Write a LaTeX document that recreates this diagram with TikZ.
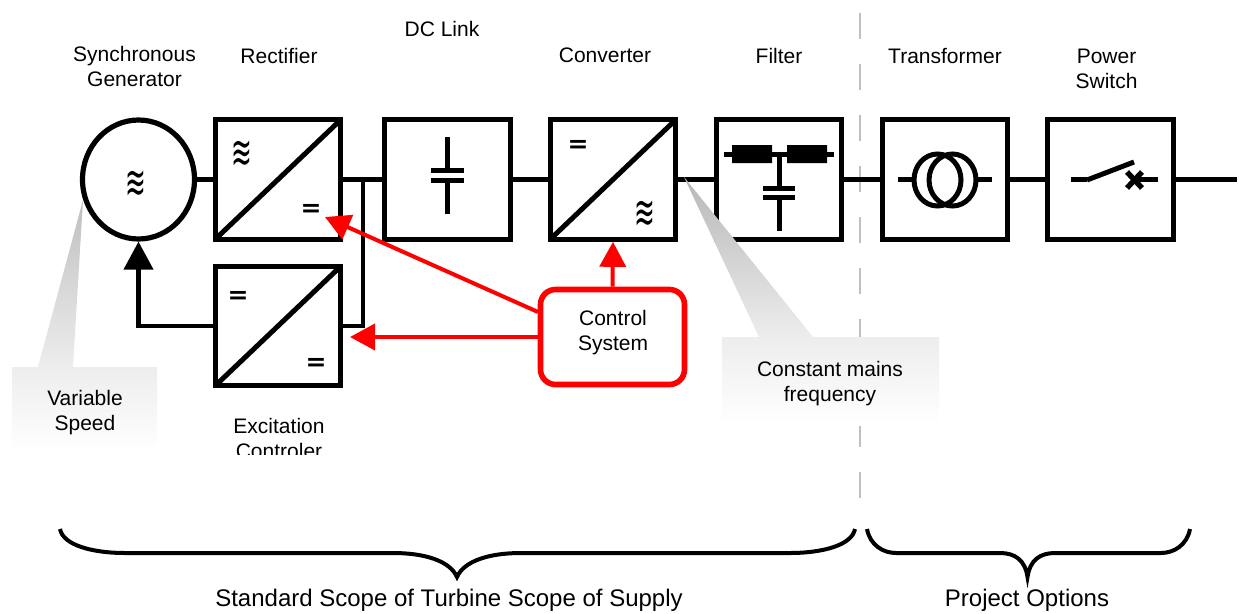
\documentclass[tikz,border=0pt]{standalone}
\usepackage{fontspec}
\usepackage{graphicx}
\setmainfont{Liberation Sans}
\newfontfamily\symfont{DejaVu Sans}
\usetikzlibrary{arrows.meta,shadings,shapes.geometric,calc}
\definecolor{guide}{HTML}{C0C0C0}
\tikzset{
  wire/.style={line width=4.2pt,black},
  blockbox/.style={draw,line width=5.2pt,fill=white,minimum width=125.5pt,minimum height=119.5pt,inner sep=0pt},
  genbox/.style={draw,ellipse,line width=5.2pt,fill=white,minimum width=112pt,minimum height=119pt,inner sep=0pt},
  lbl/.style={font=\fontsize{21}{25}\selectfont,align=center,inner sep=0pt,text=black},
  biglbl/.style={lbl,font=\fontsize{24}{28}\selectfont},
  wave/.style={font=\symfont\fontsize{27}{27}\selectfont,inner sep=0pt},
  eq/.style={font=\symfont\bfseries\fontsize{25}{25}\selectfont,inner sep=0pt},
  callout/.style={lbl,shading=axis,top color=black!7,bottom color=white,shading angle=0},
  redwire/.style={line width=4pt,red},
  redhead/.style={-{Triangle[length=25pt,width=26pt]}},
  part/.style={line width=5pt,black},
  brace/.style={line width=4pt,black,line cap=butt}
}
\newcommand{\wavesym}{\scalebox{0.92}[1.7]{≋}}
\begin{document}
\begin{tikzpicture}[x=1pt,y=-1pt]
\useasboundingbox (0,0) rectangle (1239,613);
% dashed separator
\coordinate (sepA) at (860,13);
\coordinate (sepB) at (860,499);
\draw[guide,line width=2.6pt,dash pattern=on 25.6pt off 25.4pt] (sepA) -- (sepB);
% blocks
\node[genbox] (gen) at (138.5,179.5) {};
\node[blockbox] (rect) at (278,179.5) {};
\node[blockbox] (exc) at (278,326) {};
\node[blockbox] (dc) at (447.5,179.5) {};
\node[blockbox] (conv) at (613,179.5) {};
\node[blockbox] (filt) at (779,179.5) {};
\node[blockbox] (trafo) at (945,179.5) {};
\node[blockbox] (sw) at (1110.5,179.5) {};
\coordinate (outEnd) at (1237,179.5);
\coordinate (tee) at (363,179.5);
% diagonals
\foreach \b in {rect,exc,conv}{
  \draw[part] ($(\b.south west)+(2.6,-2.6)$) -- ($(\b.north east)+(-2.6,2.6)$);
}
% wires
\draw[wire] (gen.east) -- (rect.west);
\draw[wire] (rect.east) -- (dc.west);
\draw[wire] (dc.east) -- (conv.west);
\draw[wire] (conv.east) -- (filt.west);
\draw[wire] (filt.east) -- (trafo.west);
\draw[wire] (trafo.east) -- (sw.west);
\draw[wire] (sw.east) -- (outEnd);
\draw[wire] (tee) |- (exc.east);
\draw[wire,-{Triangle[length=28pt,width=29pt]}] (exc.west) -| (gen.south);
% symbols
\node[wave] (s1) at (136,185) {\wavesym};
\node[wave] (s2) at (241.5,155) {\wavesym};
\node[eq] (s3) at (311,210) {=};
\node[eq] (s4) at (238,297) {=};
\node[eq] (s5) at (316,364) {=};
\node[eq] (s6) at (578,146) {=};
\node[wave] (s7) at (645,215) {\wavesym};
% DC capacitor
\coordinate (c1) at (447.5,137); \coordinate (c2) at (447.5,170.5);
\coordinate (c3) at (447.5,180); \coordinate (c4) at (447.5,214);
\draw[part] (c1) -- (c2) (c3) -- (c4);
\draw[part] (431,170.5) -- (464,170.5) (431,180) -- (464,180);
% filter
\coordinate (f1) at (724,154); \coordinate (f2) at (834,154);
\draw[part] (f1) -- (f2);
\fill[black] (732,145) rectangle (772,163) (787,145) rectangle (827,163);
\draw[part] (779,154) -- (779,188) (779,197) -- (779,231);
\draw[part] (763,188) -- (795,188) (763,197) -- (795,197);
% transformer
\draw[part] (937.5,180) ellipse [x radius=23.5,y radius=26];
\draw[part] (952.5,180) ellipse [x radius=23.5,y radius=26];
\draw[part] (898,179.5) -- (914,179.5) (976,179.5) -- (992,179.5);
% switch
\draw[part] (1071,179.5) -- (1087,179.5);
\draw[part] (1087,180) -- (1134,162);
\draw[part] (1134,179.5) -- (1158,179.5);
\draw[line width=5.4pt] (1127,172) -- (1142,188) (1142,172) -- (1127,188);
% callout wedges
\shade[top color=black!25,bottom color=black!7] (83,200) -- (73,367) -- (38,367) -- cycle;
\shade[top color=black!28,bottom color=black!7] (684,177) -- (813,337) -- (759,337) -- cycle;
\node[callout,minimum width=145pt,minimum height=85pt] (vs) at (84.5,409.5) {};
\node[lbl] (vst) at (85,412.5) {Variable\\Speed};
\node[callout,minimum width=217pt,minimum height=88pt] (cm) at (830.5,381) {};
\node[lbl] (cmt) at (830,383.5) {Constant mains\\frequency};
% control
\node[draw=red,line width=5.6pt,fill=white,rounded corners=15pt,minimum width=144pt,minimum height=95pt] (ctrl) at (612.5,337) {};
\node[lbl] (ctrlT) at (613,332.5) {Control\\System};
\coordinate (excIn) at (350,337);
\coordinate (rectIn) at (325,217);
\coordinate (ctrlD) at (538,312);
\draw[redwire,redhead] (ctrl.north) -- (conv.south);
\draw[redwire,redhead] (ctrl.west) -- (excIn);
\draw[redwire,redhead] (ctrlD) -- (rectIn);
% labels
\node[lbl] (l1) at (134.5,66.5) {Synchronous\\Generator};
\node[lbl] (l2) at (279,56) {Rectifier};
\node[lbl] (l3) at (442,29) {DC Link};
\node[lbl] (l4) at (605,55) {Converter};
\node[lbl] (l5) at (779,56) {Filter};
\node[lbl] (l6) at (945,56) {Transformer};
\node[lbl] (l7) at (1106.5,68.5) {Power\\Switch};
\begin{scope}
\clip (200,405) rectangle (360,454);
\node[lbl] (l8) at (279,438.5) {Excitation\\Controler};
\end{scope}
% braces
\draw[brace] (60,529) .. controls (63,545) and (92,553) .. (125,553) -- (393,553) .. controls (425,553) and (450,561) .. (457,577) .. controls (464,561) and (489,553) .. (521,553) -- (790,553) .. controls (823,553) and (852,545) .. (855,529);
\draw[brace] (867,529) .. controls (870,545) and (883,553) .. (896,553) -- (1000,553) .. controls (1015,553) and (1025,560) .. (1027.5,577) .. controls (1030,560) and (1040,553) .. (1055,553) -- (1161,553) .. controls (1174,553) and (1187,545) .. (1190,529);
\node[biglbl] (b1) at (449,600) {Standard Scope of Turbine Scope of Supply};
\node[biglbl] (b2) at (1027,600) {Project Options};
\end{tikzpicture}
\end{document}
